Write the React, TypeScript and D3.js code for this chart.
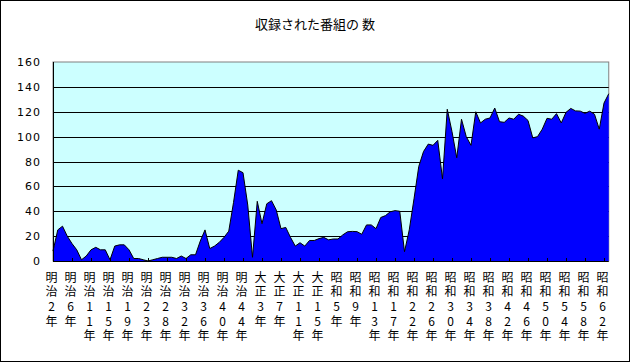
import React from "react";
import * as d3 from "d3";

const title = "収録された番組の 数";

// one value per category (year)
const programCounts = [
  8, 25, 28, 20, 14, 9, 1, 4, 9, 11, 9, 9, 1, 12, 13, 13, 9, 2, 2, 1, 0, 1, 2, 3, 3,
  3, 2, 4, 2, 5, 5, 16, 25, 10, 12, 15, 19, 24, 47, 73, 71, 45, 3, 48, 30, 46, 48.5, 41,
  26, 27, 19, 12, 14.7, 12, 16.5, 16.5, 18, 19, 17, 17.7, 17.7,
  21, 23.5, 23.8, 23.6, 21.5, 29, 29, 26, 35, 36.5, 39.6, 40.5, 40, 7.5, 25, 50, 76,
  88, 94, 93, 97, 66, 122, 104, 83, 114, 100, 93, 120, 111, 114, 115, 123, 112, 111.5,
  115, 114, 118, 116.5, 113, 99, 100, 106, 114.7, 114, 118.5, 111, 119.5, 122.7, 120.7,
  120.5, 118.7, 120.5, 118, 106, 127, 134.5,
];

// labels shown every 4th category
const tickLabels = [
  "明治2年", "明治6年", "明治11年", "明治15年", "明治19年", "明治23年", "明治28年",
  "明治32年", "明治36年", "明治40年", "明治44年", "大正3年", "大正7年", "大正11年",
  "大正15年", "昭和5年", "昭和9年", "昭和13年", "昭和17年", "昭和22年", "昭和26年",
  "昭和30年", "昭和34年", "昭和38年", "昭和42年", "昭和46年", "昭和50年", "昭和54年",
  "昭和58年", "昭和62年",
];
const labelEvery = 4;

const yTicks = [0, 20, 40, 60, 80, 100, 120, 140, 160];

const W = 632;
const H = 364;
const plot = { left: 53, right: 608.75, top: 62, bottom: 261 };

const App: React.FC = () => {
  const x = d3
    .scaleLinear()
    .domain([0, programCounts.length - 1])
    .range([plot.left, plot.right]);
  const y = d3.scaleLinear().domain([0, 160]).range([plot.bottom, plot.top]);

  const area = d3
    .area<number>()
    .x((_, i) => x(i))
    .y0(y(0))
    .y1(d => y(d));
  const line = d3
    .line<number>()
    .x((_, i) => x(i))
    .y(d => y(d));

  const fontJP = "'Noto Sans CJK JP', sans-serif";
  const pw = plot.right - plot.left;

  return (
    <svg
      width={W}
      height={H}
      style={{ position: "absolute", left: 0, top: 0, background: "#fff" }}
    >
      <rect x={0.5} y={0.5} width={W - 3} height={H - 3} fill="#fff" stroke="#000" />
      <text
        x={315}
        y={29}
        textAnchor="middle"
        fontFamily={fontJP}
        fontSize={13}
        fill="#000"
      >
        {title}
      </text>

      {/* plot background */}
      <rect
        x={plot.left}
        y={plot.top}
        width={pw}
        height={plot.bottom - plot.top}
        fill="#ccffff"
        stroke="#808080"
      />
      {yTicks
        .filter(t => t > 0 && t < 160)
        .map(t => (
          <line
            key={t}
            x1={plot.left}
            x2={plot.right}
            y1={Math.round(y(t)) + 0.5}
            y2={Math.round(y(t)) + 0.5}
            stroke="#000"
          />
        ))}

      <path d={area(programCounts) ?? ""} fill="#0000ff" />
      <path d={line(programCounts) ?? ""} fill="none" stroke="#000" strokeWidth={1} />

      {/* axes */}
      <line x1={plot.left + 0.5} x2={plot.left + 0.5} y1={plot.top} y2={plot.bottom} stroke="#000" />
      <line x1={plot.left} x2={plot.right} y1={plot.bottom + 0.5} y2={plot.bottom + 0.5} stroke="#000" />
      {tickLabels.map((_, k) => {
        const tx = Math.round(x(k * labelEvery)) + 0.5;
        return (
          <line key={k} x1={tx} x2={tx} y1={plot.bottom} y2={plot.bottom - 3} stroke="#000" />
        );
      })}

      {yTicks.map(t => (
        <text
          key={t}
          x={41}
          y={y(t) + 4}
          textAnchor="end"
          fontFamily="'DejaVu Sans', sans-serif"
          fontSize={11}
          letterSpacing={1}
          fill="#000"
        >
          {t}
        </text>
      ))}

      {/* vertical category labels, upright characters */}
      {tickLabels.map((lab, k) => {
        const cx = x(k * labelEvery) - 1.5;
        return (
          <text
            key={lab}
            x={cx}
            y={271}
            fontFamily={fontJP}
            fontSize={12}
            fill="#000"
            letterSpacing={2.7}
            style={{ writingMode: "vertical-rl", textOrientation: "upright" } as React.CSSProperties}
          >
            {lab}
          </text>
        );
      })}
    </svg>
  );
};

export default App;
